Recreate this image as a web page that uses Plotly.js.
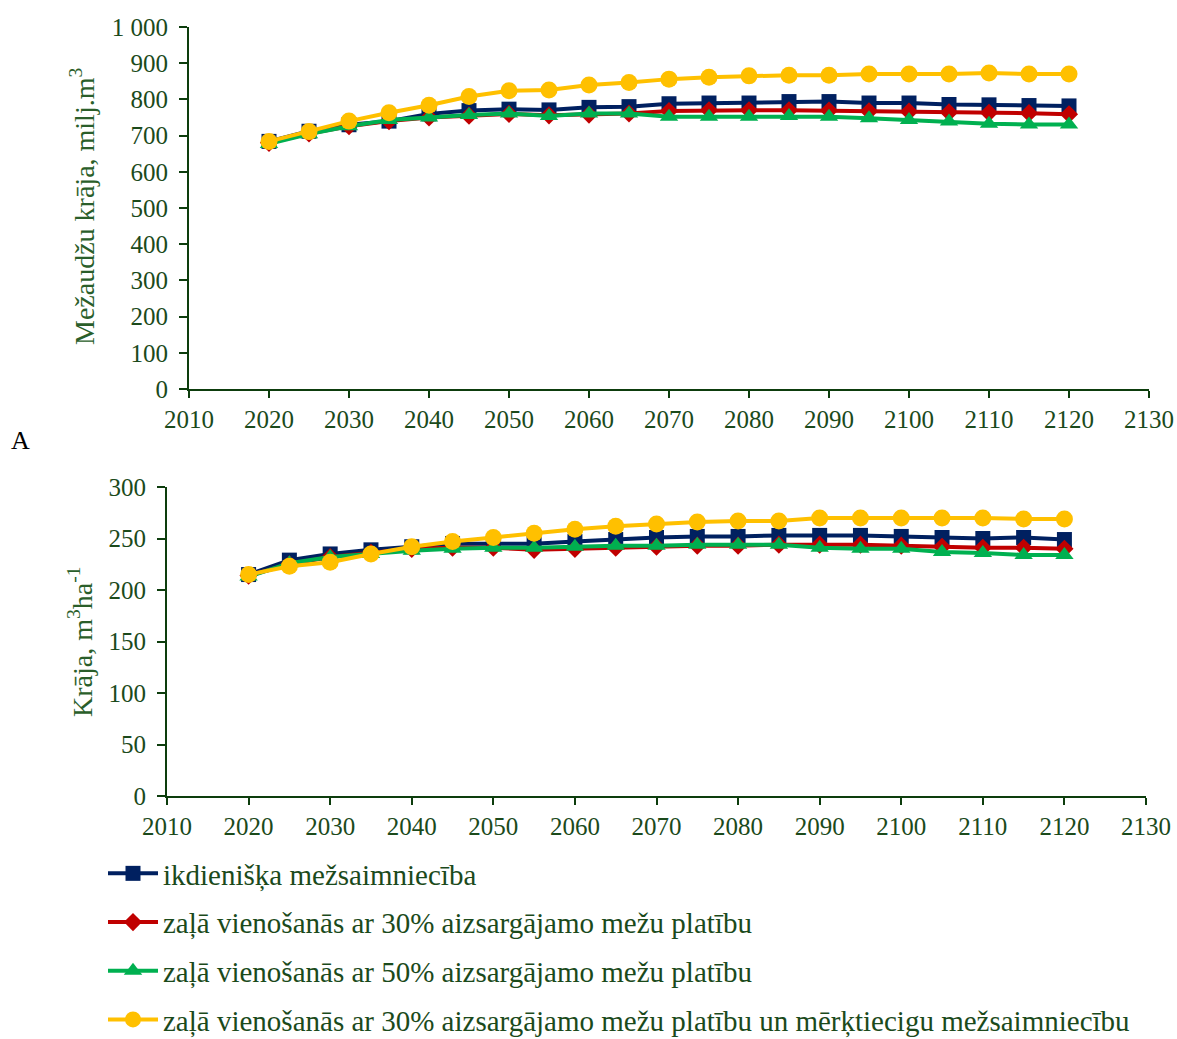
<!DOCTYPE html>
<html>
<head>
<meta charset="utf-8">
<script src="https://cdn.plot.ly/plotly-3.0.1.min.js"></script>
<style>html,body{margin:0;padding:0;background:#fff;}#chart{width:1177px;height:1039px;}</style>
</head>
<body>
<div id="chart"></div>
<script>
const years = [2020,2025,2030,2035,2040,2045,2050,2055,2060,2065,2070,2075,2080,2085,2090,2095,2100,2105,2110,2115,2120];

const seriesNames = [
  "ikdienišķa mežsaimniecība",
  "zaļā vienošanās ar 30% aizsargājamo mežu platību",
  "zaļā vienošanās ar 50% aizsargājamo mežu platību",
  "zaļā vienošanās ar 30% aizsargājamo mežu platību un mērķtiecigu mežsaimniecību"
];

// Panel A: Mežaudžu krāja, milj. m3
const totalBAU   = [684,712,730,740,760,769,773,771,778,780,788,790,790,794,794,790,790,786,785,783,782];
const totalGD30  = [680,706,726,740,750,755,760,756,758,761,768,770,770,770,769,767,766,764,763,762,759];
const totalGD50  = [677,704,726,743,750,757,761,754,761,761,752,752,752,754,752,748,743,739,733,731,731];
const totalGD30M = [684,711,740,763,784,808,824,826,840,847,856,861,865,867,867,870,870,870,873,870,870];

// Panel B: Krāja, m3/ha
const perHaBAU   = [215,229,235,239,242,245,245,245,247,249,251,252,252,253,253,253,252,251,250,251,249];
const perHaGD30  = [214,225,232,236,240,241,241,239,240,241,242,243,243,244,244,244,243,242,241,241,240];
const perHaGD50  = [213,226,232,235,238,240,241,241,242,243,243,244,244,244,241,240,240,237,236,234,234];
const perHaGD30M = [215,223,227,235,242,247,251,255,259,262,264,266,267,267,270,270,270,270,270,269,269];

const colors = ["#002060","#C00000","#00B050","#FFC000"];
const symbols = ["square","diamond","triangle-up","circle"];
const sizes = [15,14,16,17];

const FONT = "'Liberation Serif', 'Times New Roman', Times, serif";
const TXT = "#1B4A1B";
const AX = "#0D3D0D";

const topSets = [totalBAU,totalGD30,totalGD50,totalGD30M];
const botSets = [perHaBAU,perHaGD30,perHaGD50,perHaGD30M];

const traces = [];
topSets.forEach((ys,i)=>{
  traces.push({x:years,y:ys,xaxis:"x",yaxis:"y",type:"scatter",mode:"lines+markers",
    name:seriesNames[i],legendgroup:"g"+i,showlegend:true,
    line:{color:colors[i],width:4},
    marker:{symbol:symbols[i],size:sizes[i],color:colors[i]},hoverinfo:"skip"});
});
botSets.forEach((ys,i)=>{
  traces.push({x:years,y:ys,xaxis:"x2",yaxis:"y2",type:"scatter",mode:"lines+markers",
    name:seriesNames[i],legendgroup:"g"+i,showlegend:false,
    line:{color:colors[i],width:4},
    marker:{symbol:symbols[i],size:sizes[i],color:colors[i]},hoverinfo:"skip"});
});

const W=1177,H=1039;
function xd(a,b){return [a/W,b/W];}
function yd(top,bot){return [(H-bot)/H,(H-top)/H];}

const xCommon = {range:[2010,2130],dtick:10,tick0:2010,showgrid:false,zeroline:false,
  showline:true,linecolor:AX,linewidth:2,ticks:"outside",ticklen:7,tickwidth:2,tickcolor:AX,
  ticklabelstandoff:0,automargin:false,
  tickfont:{family:FONT,size:25,color:TXT},fixedrange:true};
const yCommon = {showgrid:false,zeroline:false,showline:true,linecolor:AX,linewidth:2,
  ticks:"outside",ticklen:8,tickwidth:2,tickcolor:AX,ticklabelstandoff:6,automargin:false,
  tickfont:{family:FONT,size:25,color:TXT},fixedrange:true};

const layout = {
  width:W,height:H,margin:{l:0,r:0,t:0,b:0,autoexpand:false},
  paper_bgcolor:"#fff",plot_bgcolor:"#fff",
  separators:". ",
  font:{family:FONT,color:TXT},
  xaxis:Object.assign({},xCommon,{domain:xd(189,1149),anchor:"y"}),
  yaxis:Object.assign({},yCommon,{domain:yd(27,389),anchor:"x",range:[0,1000],dtick:100,separatethousands:true}),
  xaxis2:Object.assign({},xCommon,{domain:xd(167,1146),anchor:"y2"}),
  yaxis2:Object.assign({},yCommon,{domain:yd(487,796),anchor:"x2",range:[0,300],dtick:50}),
  showlegend:true,
  legend:{xref:"container",yref:"container",x:103/W,xanchor:"left",y:(H-848)/H,yanchor:"top",orientation:"v",
    font:{family:FONT,size:29,color:TXT},bgcolor:"rgba(0,0,0,0)",
    tracegroupgap:8,itemwidth:50,traceorder:"grouped"},
  annotations:[
    {text:"Mežaudžu krāja, milj.m<sup>3</sup>",xref:"paper",yref:"paper",x:82/W,y:(H-207)/H,
     xanchor:"center",yanchor:"middle",textangle:-90,showarrow:false,font:{family:FONT,size:28,color:"#2A5E2A"}},
    {text:"Krāja, m<sup>3</sup>ha<sup>-1</sup>",xref:"paper",yref:"paper",x:80/W,y:(H-642)/H,
     xanchor:"center",yanchor:"middle",textangle:-90,showarrow:false,font:{family:FONT,size:28,color:"#2A5E2A"}},
    {text:"A",xref:"paper",yref:"paper",x:20/W,y:(H-440)/H,xanchor:"center",yanchor:"middle",
     showarrow:false,font:{family:FONT,size:26,color:"#000"}}
  ]
};

Plotly.newPlot("chart",traces,layout,{displayModeBar:false,staticPlot:true});
</script>
</body>
</html>
